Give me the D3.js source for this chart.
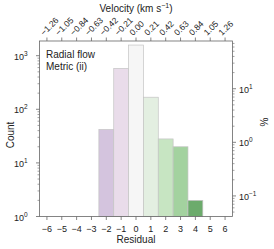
<!DOCTYPE html>
<html>
<head>
<meta charset="utf-8">
<script src="https://cdn.jsdelivr.net/npm/d3@7"></script>
<style>
  body { margin: 0; background: #fff; }
  svg text { font-family: "Liberation Sans", Arial, sans-serif; fill: #222; }
</style>
</head>
<body>
<div id="chart"></div>
<script>
// histogram data
var residuals = [-2, -1, 0, 1, 2, 3, 4];
var counts    = [42, 580, 1580, 168, 28, 20, 2];
var barColors = ["#d4c4de", "#e9dcea", "#f6f6f6", "#e3efe1", "#c7e5c2", "#a3d29f", "#6cab6c"];
// axis ticks
var residualTicks = [-6, -5, -4, -3, -2, -1, 0, 1, 2, 3, 4, 5, 6];
var velocityLabels = ["\u22121.26", "\u22121.05", "\u22120.84", "\u22120.63", "\u22120.42", "\u22120.21",
                      "0.00", "0.21", "0.42", "0.63", "0.84", "1.05", "1.26"];
var countTicks = [1, 10, 100, 1000];
var percentTicks = [0.1, 1, 10];

var W = 274, H = 249;
var margin = {left: 39.5, right: 41.5, top: 41, bottom: 32.5};
var total = d3.sum(counts);

var svg = d3.select("#chart").append("svg").attr("width", W).attr("height", H);

var x = d3.scaleLinear().domain([-6.5, 6.5]).range([margin.left, W - margin.right]);
var y = d3.scaleLog().domain([1, 1880]).range([H - margin.bottom, margin.top]);
// percent axis shares the count scale
var yp = d3.scaleLog()
  .domain([100 / total, 1880 * 100 / total])
  .range([H - margin.bottom, margin.top]);

var axisColor = "#666";

// bars
svg.append("g").selectAll("rect")
  .data(residuals)
  .enter().append("rect")
  .attr("x", function(d){ return x(d - 0.5); })
  .attr("width", function(d){ return x(d + 0.5) - x(d - 0.5); })
  .attr("y", function(d, i){ return y(counts[i]); })
  .attr("height", function(d, i){ return y(1) - y(counts[i]); })
  .attr("fill", function(d, i){ return barColors[i]; })
  .attr("stroke", "#c4c4c4")
  .attr("stroke-width", 0.7);

// frame
svg.append("rect")
  .attr("x", margin.left).attr("y", margin.top)
  .attr("width", W - margin.left - margin.right)
  .attr("height", H - margin.top - margin.bottom)
  .attr("fill", "none").attr("stroke", axisColor).attr("stroke-width", 0.8);

function logLabel(g, exp) {
  g.text("10");
  g.append("tspan").attr("dy", -4).attr("font-size", "6.5px").text(exp < 0 ? "\u2212" + (-exp) : exp);
}

function minorTicks(scale) {
  var d = scale.domain(), out = [];
  var lo = Math.floor(Math.log10(d[0])), hi = Math.ceil(Math.log10(d[1]));
  for (var e = lo; e <= hi; e++) {
    for (var m = 2; m <= 9; m++) {
      var v = m * Math.pow(10, e);
      if (v >= d[0] && v <= d[1]) out.push(v);
    }
  }
  return out;
}

// left axis
var leftAxis = svg.append("g");
leftAxis.selectAll("line.minor").data(minorTicks(y)).enter().append("line")
  .attr("x1", margin.left - 2).attr("x2", margin.left)
  .attr("y1", function(d){ return y(d); }).attr("y2", function(d){ return y(d); })
  .attr("stroke", axisColor).attr("stroke-width", 0.6);
leftAxis.selectAll("line.major").data(countTicks).enter().append("line")
  .attr("x1", margin.left - 3.5).attr("x2", margin.left)
  .attr("y1", function(d){ return y(d); }).attr("y2", function(d){ return y(d); })
  .attr("stroke", axisColor).attr("stroke-width", 0.8);
leftAxis.selectAll("text").data(countTicks).enter().append("text")
  .attr("x", 14).attr("y", function(d){ return y(d) + 4; })
  .attr("font-size", "9px")
  .each(function(d){ logLabel(d3.select(this), Math.round(Math.log10(d))); });

// right axis
var rightAxis = svg.append("g");
var rx = W - margin.right;
rightAxis.selectAll("line.minor").data(minorTicks(yp)).enter().append("line")
  .attr("x1", rx).attr("x2", rx + 2)
  .attr("y1", function(d){ return yp(d); }).attr("y2", function(d){ return yp(d); })
  .attr("stroke", axisColor).attr("stroke-width", 0.6);
rightAxis.selectAll("line.major").data(percentTicks).enter().append("line")
  .attr("x1", rx).attr("x2", rx + 3.5)
  .attr("y1", function(d){ return yp(d); }).attr("y2", function(d){ return yp(d); })
  .attr("stroke", axisColor).attr("stroke-width", 0.8);
rightAxis.selectAll("text").data(percentTicks).enter().append("text")
  .attr("x", rx + 6.5).attr("y", function(d){ return yp(d) + 4; })
  .attr("font-size", "9px")
  .each(function(d){ logLabel(d3.select(this), Math.round(Math.log10(d))); });

// bottom axis
var by = H - margin.bottom;
var bottomAxis = svg.append("g");
bottomAxis.selectAll("line").data(residualTicks).enter().append("line")
  .attr("x1", function(d){ return x(d); }).attr("x2", function(d){ return x(d); })
  .attr("y1", by).attr("y2", by + 3.5)
  .attr("stroke", axisColor).attr("stroke-width", 0.8);
bottomAxis.selectAll("text").data(residualTicks).enter().append("text")
  .attr("x", function(d){ return x(d); }).attr("y", by + 15.5)
  .attr("text-anchor", "middle").attr("font-size", "9px")
  .text(function(d){ return d < 0 ? "\u2212" + (-d) : d; });
svg.append("text").attr("x", (margin.left + W - margin.right) / 2).attr("y", 243)
  .attr("text-anchor", "middle").attr("font-size", "10px").text("Residual");

// top axis (velocity)
var ty = margin.top;
var topAxis = svg.append("g");
topAxis.selectAll("line").data(residualTicks).enter().append("line")
  .attr("x1", function(d){ return x(d); }).attr("x2", function(d){ return x(d); })
  .attr("y1", ty).attr("y2", ty - 3.5)
  .attr("stroke", axisColor).attr("stroke-width", 0.8);
topAxis.selectAll("text").data(residualTicks).enter().append("text")
  .attr("transform", function(d){ return "translate(" + (x(d) - 3) + "," + (ty - 5) + ") rotate(-45)"; })
  .attr("font-size", "8.5px")
  .text(function(d, i){ return velocityLabels[i]; });
var vt = svg.append("text").attr("x", (margin.left + W - margin.right) / 2).attr("y", 12)
  .attr("text-anchor", "middle").attr("font-size", "10px").text("Velocity (km s");
vt.append("tspan").attr("dy", -4).attr("font-size", "7px").text("\u22121");
vt.append("tspan").attr("dy", 4).text(")");

// y labels
svg.append("text").attr("transform", "translate(14," + 135 + ") rotate(-90)")
  .attr("text-anchor", "middle").attr("font-size", "10px").text("Count");
svg.append("text").attr("transform", "translate(268," + 122 + ") rotate(-90)")
  .attr("text-anchor", "middle").attr("font-size", "10px").text("%");

// annotation
svg.append("text").attr("x", 46).attr("y", 57.5).attr("font-size", "10px").text("Radial flow");
svg.append("text").attr("x", 46).attr("y", 70).attr("font-size", "10px").text("Metric (ii)");
</script>
</body>
</html>
